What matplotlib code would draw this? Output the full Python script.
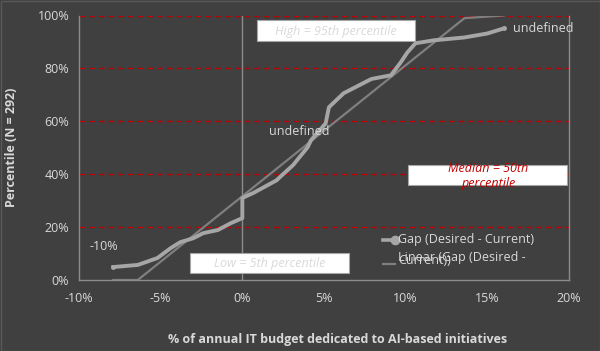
import numpy as np
import matplotlib
matplotlib.use("Agg")
import matplotlib.pyplot as plt
from matplotlib.patches import Rectangle
from matplotlib.lines import Line2D
from matplotlib.ticker import PercentFormatter

plt.rcParams['font.family'] = ['Open Sans', 'DejaVu Sans']
plt.rcParams['axes.unicode_minus'] = False

# Gap (Desired - Current), x = % of IT budget, y = percentile
gap_x = [-7.9, -6.4, -5.2, -4.4, -3.8, -3.0, -2.4, -1.5, -0.7, 0.0, 0.0, 0.7,
         2.1, 2.3, 3.1, 4.0, 4.2, 5.1, 5.3, 6.2, 7.9, 9.1, 9.7, 10.1, 10.6,
         11.7, 13.6, 15.0, 16.0]
gap_y = [4.9, 5.7, 8.3, 12.0, 14.3, 15.8, 17.7, 18.9, 21.5, 23.4, 31.0, 33.0,
         37.7, 38.9, 43.4, 50.2, 52.8, 59.2, 65.3, 70.6, 76.0, 77.4, 82.3, 86.0,
         89.5, 90.6, 91.7, 93.2, 95.1]

# linear trend line as shown (clipped by axis 0..100%)
trend_x = [-7.9, -6.4, 13.6, 16.0]
trend_y = [0.0, 0.0, 99.0, 100.0]

ref_lines = [20, 40, 60, 80, 100]
x_ticks = [-10, -5, 0, 5, 10, 15, 20]
y_ticks = [0, 20, 40, 60, 80, 100]

bg = "#404040"
txt = "#d9d9d9"
red = "#c00000"

W, H = 600, 351
fig = plt.figure(figsize=(6, 3.51), dpi=100)
fig.patch.set_facecolor(bg)
ax = fig.add_axes([79 / W, 1 - 280 / H, (569 - 79) / W, (280 - 15.5) / H])
ax.set_facecolor(bg)

ax.set_xlim(-10, 20)
ax.set_ylim(0, 100)
ax.set_xticks(x_ticks)
ax.set_yticks(y_ticks)
ax.xaxis.set_major_formatter(PercentFormatter(decimals=0))
ax.yaxis.set_major_formatter(PercentFormatter(decimals=0))
ax.tick_params(length=0, colors=txt, labelsize=9)
ax.tick_params(axis='x', pad=9)
ax.tick_params(axis='y', pad=7)

for s in ["left", "bottom", "right"]:
    ax.spines[s].set_color("#8c8c8c")
    ax.spines[s].set_linewidth(1)
ax.spines["top"].set_visible(False)

for v in ref_lines:
    ax.axhline(v, color=red, lw=1, ls=(0, (4, 3)), zorder=1)
ax.axvline(0, color="#8c8c8c", lw=1, zorder=1)

ax.plot(trend_x, trend_y, color="#7f7f7f", lw=1.6, zorder=2)
ax.plot(gap_x, gap_y, color="#a6a6a6", lw=2.8, marker="o", ms=2.5,
        markevery=[0, len(gap_x) - 1], zorder=3)

# data labels
ax.annotate("-10%", (gap_x[0], gap_y[0]), xytext=(-7, 15), textcoords="offset points",
            color=txt, fontsize=9, ha="center", va="center")
ax.annotate("undefined", (gap_x[15], gap_y[15]), xytext=(-6, 11), textcoords="offset points",
            color=txt, fontsize=9, ha="center", va="center")
ax.annotate("undefined", (gap_x[-1], gap_y[-1]), xytext=(7, 0), textcoords="offset points",
            color=txt, fontsize=9, ha="left", va="center")

ax.set_xlabel("% of annual IT budget dedicated to AI-based initiatives",
              color=txt, fontsize=9, fontweight="bold", va="center")
ax.xaxis.set_label_coords((338 - 79) / (569 - 79), -(340 - 280) / (280 - 15.5))
ax.set_ylabel("Percentile (N = 292)", color=txt, fontsize=9, fontweight="bold")
ax.yaxis.set_label_coords(-(79 - 18) / (569 - 79), 0.5)


def box(x0, y0, x1, y1):
    fig.add_artist(Rectangle((x0 / W, 1 - y1 / H), (x1 - x0) / W, (y1 - y0) / H,
                             transform=fig.transFigure, facecolor="white",
                             edgecolor="#a6a6a6", lw=0.8, zorder=5))


def ftext(x, y, s, **kw):
    fig.text(x / W, 1 - y / H, s, zorder=6, **kw)


box(257, 20, 415, 41)
ftext(336, 31, "High = 95th percentile", color="#d9d9d9", fontsize=9,
      style="italic", ha="center", va="center")
box(408, 165, 567, 185)
ftext(488, 168, "Median = 50th", color=red, fontsize=9, style="italic",
      ha="center", va="center")
ftext(488, 184, "percentile", color=red, fontsize=9, style="italic",
      ha="center", va="center")
box(190, 253, 349, 273)
ftext(270, 264, "Low = 5th percentile", color="#d9d9d9", fontsize=9,
      style="italic", ha="center", va="center")

# legend drawn by hand (second label wraps onto itself)
fig.add_artist(Line2D([383 / W, 395 / W], [1 - 240 / H] * 2, color="#a6a6a6", lw=2.6,
                      marker="o", ms=6, markevery=[1], transform=fig.transFigure))
ftext(398, 240, "Gap (Desired - Current)", color=txt, fontsize=9, va="center")
fig.add_artist(Line2D([383 / W, 395 / W], [1 - 264 / H] * 2, color="#7f7f7f", lw=1.6,
                      transform=fig.transFigure))
ftext(398, 257, "Linear (Gap (Desired -", color=txt, fontsize=9, va="center")
ftext(398, 261, "Current))", color=txt, fontsize=9, va="center")

# outer chart border
fig.add_artist(Rectangle((0.5 / W, 0.5 / H), 1 - 1 / W, 1 - 1 / H, transform=fig.transFigure,
                         fill=False, edgecolor="#595959", lw=1))

fig.savefig("out.png", dpi=100, facecolor=bg)
